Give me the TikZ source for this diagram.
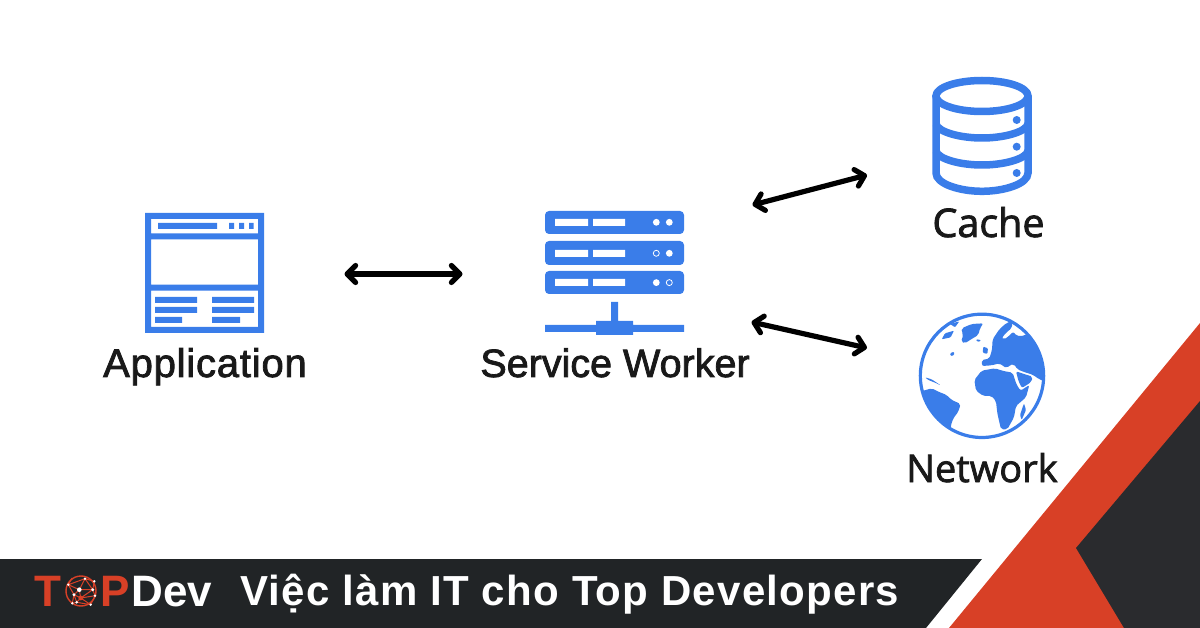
\documentclass[tikz,border=0pt]{standalone}
\usepackage{fontspec}
\setmainfont{Liberation Sans}
\newfontfamily\rackfont[FakeBold=2]{Liberation Sans}
\newfontfamily\appfont[FakeBold=2,LetterSpace=2]{Liberation Sans}
\newfontfamily\opensans[FakeBold=2]{Open Sans}
\newfontfamily\bandfont[LetterSpace=3]{Liberation Sans}
\usepackage{xcolor}
\definecolor{iconblue}{RGB}{58, 125, 233}
\definecolor{bandred}{RGB}{216, 64, 38}
\definecolor{banddark}{RGB}{33, 36, 38}
\definecolor{cornerdark}{RGB}{42, 43, 46}
\usetikzlibrary{arrows.meta}
\tikzset{
  biarrow/.style={line width=5.2pt,{Straight Barb[round,length=8.5pt,width=17pt]}-{Straight Barb[round,length=8.5pt,width=17pt]}},
  iconlabel/.style={anchor=base,inner sep=0pt,text=black!90},
  bandtext/.style={anchor=base west,inner sep=0pt,text=white,font=\bandfont\fontsize{42}{42}\selectfont\bfseries},
  logotext/.style={anchor=base west,inner sep=0pt,font=\fontsize{44}{44}\selectfont\bfseries},
}

\begin{document}
\begin{tikzpicture}[x=1pt,y=-1pt]
\useasboundingbox (0,0) rectangle (1200,628);

% application window
\fill [iconblue,even odd rule] (145,213) rectangle (264,333)
  (151,219) rectangle (258,233.5) (151,239.5) rectangle (258,284.7)
  (151,290.7) rectangle (258,327);
\fill [iconblue] (158,223) rectangle (217,229)
  (229,223) rectangle (234,229) (239,223) rectangle (244,229)
  (249,223) rectangle (253.5,229);
\fill [iconblue] (155,297) rectangle (197,303) (155,307) rectangle (197,313)
  (155,317) rectangle (182,323) (212,297) rectangle (254,303)
  (212,307) rectangle (254,313) (212,317) rectangle (240,323);
\node [iconlabel,font=\appfont\fontsize{40}{40}\selectfont] (applabel) at (205,377) {Application};

% server rack
\fill [iconblue,rounded corners=4pt] (545,211) rectangle (684,234)
  (545,241) rectangle (684,265) (545,271) rectangle (684,294);
\fill [white] (555,219) rectangle (588,226) (593,219) rectangle (625,226)
  (555,250) rectangle (588,257) (593,250) rectangle (625,257)
  (555,279) rectangle (588,286) (593,279) rectangle (625,286);
\fill [white] (656.3,222.3) circle (3.4) (669.3,222.3) circle (3.4)
  (669.3,253.3) circle (3.4) (656.3,282.6) circle (3.4);
\draw [white,line width=0.8pt] (656.3,253.3) circle (3) (669.3,282.6) circle (3);
\fill [iconblue] (611,302) rectangle (618,322) (596,321) rectangle (633,335)
  (545,325) rectangle (684,332);
\node [iconlabel,font=\rackfont\fontsize{39.5}{39.5}\selectfont] (srvlabel) at (615,377) {Service Worker};

% cache cylinder
\draw [iconblue,line width=7.5pt] (982,96) ellipse (46 and 15.5);
\draw [iconblue,line width=7.5pt] (936,96) -- (936,173)
  .. controls (936,184) and (960,191.3) .. (982,191.3)
  .. controls (1004,191.3) and (1028,184) .. (1028,173) -- (1028,96);
\draw [iconblue,line width=7.5pt] (936,124)
  .. controls (938,132) and (960,138) .. (982,138)
  .. controls (1004,138) and (1026,132) .. (1028,124);
\draw [iconblue,line width=7.5pt] (936,151)
  .. controls (938,159) and (960,165) .. (982,165)
  .. controls (1004,165) and (1026,159) .. (1028,151);
\fill [iconblue] (1016.7,120) circle (4) (1016.7,146.7) circle (4)
  (1016.7,173) circle (4);
\node [iconlabel,font=\opensans\fontsize{39.5}{39.5}\selectfont] (cachelabel) at (988.5,237) {Cache};

% network globe, traced in a 3x crop
\begin{scope}[shift={(900,300)},x=0.3333pt,y=-0.3333pt]
\draw [iconblue,line width=3.2pt] (246,227.5) circle (185);
\begin{scope}
\clip (246,227.5) circle (187);
\fill [iconblue,rounded corners=2pt]
  (185,85) -- (215,72) -- (250,70) -- (240,85) -- (235,105) -- (210,120)
  -- (195,130) -- (183,125) -- (190,105) -- (185,95) -- cycle;
\fill [iconblue,rounded corners=1pt]
  (135,100) -- (162,92) -- (152,112) -- (125,118) -- cycle
  (150,72) -- (178,64) -- (165,82) -- cycle
  (150,160) -- (162,155) -- (162,166) -- (152,168) -- cycle
  (250,140) -- (264,145) -- (262,162) -- (248,158) -- cycle
  (228,118) -- (243,120) -- (240,125) -- (230,124) -- cycle
  (372,310) -- (378,330) -- (365,360) -- (360,345) -- cycle
  (75,232) -- (95,238) -- (122,256) -- (105,248) -- (85,240) -- cycle;
\fill [iconblue,rounded corners=2pt] % eurasia
  (246,198) -- (245,180) -- (268,176) -- (276,150) -- (278,118) -- (298,88)
  -- (318,70) -- (338,62) -- (335,85) -- (318,98) -- (305,115) -- (312,118)
  -- (325,110) -- (340,95) -- (350,108) -- (372,108) -- (395,90)
  -- (450,140) -- (450,250) -- (418,238) -- (398,224) -- (372,216)
  -- (352,208) -- (342,192) -- (328,196) -- (320,205) -- (298,190) -- (275,196) -- cycle;
\fill [iconblue,rounded corners=2pt] % arabia
  (348,214) -- (372,222) -- (398,230) -- (394,246) -- (366,264) -- (356,245) -- cycle;
\fill [iconblue,rounded corners=2pt] % africa
  (223,240) -- (245,212) -- (285,205) -- (310,213) -- (338,218) -- (350,255)
  -- (362,272) -- (388,255) -- (378,292) -- (348,318) -- (342,352) -- (322,388)
  -- (303,388) -- (292,340) -- (288,304) -- (275,288) -- (250,288) -- (228,272) -- cycle;
\fill [iconblue,rounded corners=2pt] % south america
  (60,275) -- (95,265) -- (115,275) -- (140,285) -- (155,300) -- (182,312)
  -- (175,335) -- (160,355) -- (152,378) -- (155,430) -- (50,330) -- cycle;
\end{scope}
\end{scope}
\node [iconlabel,font=\opensans\fontsize{38}{38}\selectfont] (netlabel) at (982,482) {Network};

% connectors
\coordinate (appport) at (344.5,274);
\coordinate (srvwest) at (462.5,274);
\coordinate (srvup) at (752.5,205);
\coordinate (cacheport) at (867,175);
\coordinate (srvdown) at (751.5,322);
\coordinate (netport) at (867,348);
\draw [biarrow] (appport) -- (srvwest);
\draw [biarrow] (srvup) -- (cacheport);
\draw [biarrow] (srvdown) -- (netport);

% bottom band and corner
\fill [banddark] (0,559) -- (982,559) -- (926,628) -- (0,628) -- cycle;
\fill [bandred] (1200,323) -- (949,628) -- (1200,628) -- cycle;
\fill [cornerdark] (1200,401) -- (1076,548) -- (1124,628) -- (1200,628) -- cycle;

% logo
\node [logotext,text=bandred] (logot) at (34,606.5) {T};
\node [logotext,text=bandred] (logop) at (100,606.5) {P};
\node [logotext,text=white] (logodev) at (131.5,606.5) {Dev};
\draw [bandred,line width=1.4pt] (81,591) circle (15);
\draw [bandred,line width=1pt] (79.3,589.7) -- (85,578.7) -- (94.3,581.3)
  -- (92.7,589.7) -- (95,595.7) -- (90.7,604.7) -- (80.7,598) -- (74,594.7)
  -- (68.3,584.7) -- (79.3,589.7) -- (92.7,589.7) -- (80.7,598) -- (79.3,589.7)
  -- (74,594.7) -- (76.7,602.3) -- (80.7,598) (72.3,603.3) -- (76.7,602.3)
  -- (90.7,604.7) (68.3,584.7) -- (85,578.7) (85,578.7) -- (92.7,589.7)
  (74,594.7) -- (72.3,603.3) (68.3,584.7) -- (72,578) (95,595.7) -- (80.7,598);
\fill [bandred] (80.7,598) circle (2.4);
\fill [white] (79.3,589.7) circle (2.3) (85,578.7) circle (1.4)
  (94.3,581.3) circle (1.3) (68.3,584.7) circle (1.3) (92.7,589.7) circle (1.6)
  (95,595.7) circle (1.3) (74,594.7) circle (1.6) (76.7,602.3) circle (1.4)
  (72.3,603.3) circle (1.3) (90.7,604.7) circle (1.3);
\node [bandtext] (slogan) at (240,605.5) {Việc làm IT cho Top Developers};
\end{tikzpicture}
\end{document}
